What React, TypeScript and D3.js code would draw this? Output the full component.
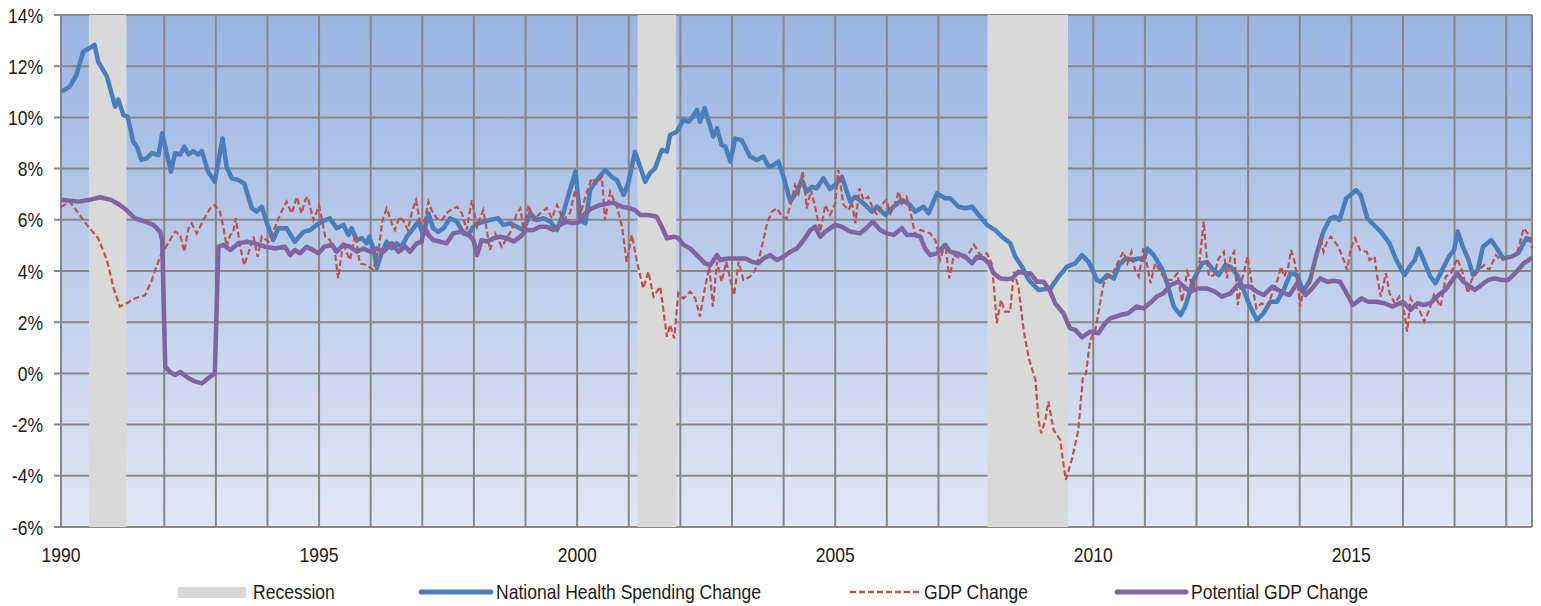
import React from 'react';
import * as d3 from 'd3';

const width = 1541;
const height = 606;
const margin = { top: 15, right: 9, bottom: 79, left: 61 };

const yTicks = [-6, -4, -2, 0, 2, 4, 6, 8, 10, 12, 14];
const xLabelYears = [1990, 1995, 2000, 2005, 2010, 2015];
const gridYears = d3.range(1990, 2019);

// recession periods as [start, end] in fractional years
const recessions = [
  [1990.54, 1991.27],
  [2001.17, 2001.92],
  [2007.95, 2009.51],
];

const healthSpending = [
  [1990.0, 11.0], [1990.17, 11.2], [1990.3, 11.66], [1990.43, 12.57], [1990.55, 12.7], [1990.65, 12.83],
  [1990.72, 12.18], [1990.89, 11.59], [1991.05, 10.42], [1991.11, 10.7], [1991.21, 10.09], [1991.29, 10.03],
  [1991.4, 9.05], [1991.47, 8.86], [1991.56, 8.34], [1991.66, 8.4], [1991.76, 8.6], [1991.89, 8.53],
  [1991.96, 9.38], [1992.13, 7.88], [1992.21, 8.6], [1992.31, 8.55], [1992.39, 8.86], [1992.47, 8.55],
  [1992.56, 8.68], [1992.66, 8.55], [1992.73, 8.68], [1992.85, 7.88], [1992.98, 7.49], [1993.13, 9.18],
  [1993.21, 8.07], [1993.31, 7.62], [1993.44, 7.55], [1993.55, 7.42], [1993.7, 6.45], [1993.79, 6.32],
  [1993.89, 6.51], [1993.99, 5.86], [1994.11, 5.21], [1994.21, 5.67], [1994.37, 5.67], [1994.53, 5.14],
  [1994.7, 5.53], [1994.83, 5.6], [1994.95, 5.8], [1995.05, 5.93], [1995.21, 6.06], [1995.34, 5.67],
  [1995.47, 5.8], [1995.57, 5.41], [1995.63, 5.67], [1995.73, 5.21], [1995.83, 5.28], [1995.92, 5.08],
  [1995.97, 5.34], [1996.05, 4.89], [1996.12, 4.11], [1996.21, 4.69], [1996.31, 5.14], [1996.41, 4.89],
  [1996.5, 5.08], [1996.6, 4.95], [1996.7, 5.34], [1996.83, 5.67], [1996.92, 5.93], [1997.02, 5.41],
  [1997.12, 6.25], [1997.21, 5.67], [1997.31, 5.53], [1997.41, 5.67], [1997.54, 6.06], [1997.67, 5.93],
  [1997.8, 5.47], [1997.89, 5.41], [1997.99, 5.73], [1998.09, 5.86], [1998.18, 5.93], [1998.31, 5.99],
  [1998.47, 6.06], [1998.57, 5.8], [1998.7, 5.86], [1998.83, 5.73], [1998.96, 5.6], [1999.09, 6.25],
  [1999.22, 5.99], [1999.35, 6.06], [1999.48, 5.93], [1999.61, 5.6], [1999.73, 6.25], [1999.86, 7.16],
  [1999.97, 7.88], [2000.06, 5.99], [2000.16, 5.86], [2000.25, 7.16], [2000.38, 7.55], [2000.54, 7.95],
  [2000.67, 7.68], [2000.77, 7.55], [2000.9, 6.97], [2000.99, 7.42], [2001.12, 8.66], [2001.22, 8.07],
  [2001.32, 7.49], [2001.41, 7.82], [2001.51, 8.01], [2001.64, 8.73], [2001.74, 8.66], [2001.8, 9.31],
  [2001.93, 9.44], [2002.06, 9.9], [2002.16, 9.83], [2002.22, 9.96], [2002.32, 10.29], [2002.38, 9.83],
  [2002.47, 10.36], [2002.54, 9.9], [2002.64, 9.25], [2002.71, 9.57], [2002.8, 8.92], [2002.87, 8.86],
  [2002.97, 8.27], [2003.06, 9.18], [2003.19, 9.11], [2003.35, 8.47], [2003.48, 8.34], [2003.61, 8.47],
  [2003.71, 8.07], [2003.8, 8.14], [2003.9, 8.27], [2004.0, 7.68], [2004.13, 6.71], [2004.26, 7.1],
  [2004.35, 7.55], [2004.45, 7.1], [2004.55, 7.29], [2004.64, 7.23], [2004.77, 7.62], [2004.9, 7.2],
  [2005.03, 7.42], [2005.13, 7.68], [2005.29, 6.71], [2005.39, 6.9], [2005.55, 6.64], [2005.71, 6.32],
  [2005.81, 6.51], [2005.97, 6.19], [2006.13, 6.51], [2006.29, 6.77], [2006.45, 6.58], [2006.55, 6.32],
  [2006.71, 6.51], [2006.81, 6.25], [2006.97, 7.03], [2007.13, 6.84], [2007.23, 6.84], [2007.39, 6.51],
  [2007.52, 6.45], [2007.65, 6.51], [2007.81, 6.12], [2007.94, 5.8], [2008.1, 5.6], [2008.23, 5.34],
  [2008.39, 5.08], [2008.49, 4.56], [2008.62, 4.17], [2008.75, 3.65], [2008.94, 3.26], [2009.17, 3.32],
  [2009.33, 3.78], [2009.49, 4.17], [2009.65, 4.3], [2009.78, 4.62], [2009.91, 4.36], [2010.07, 3.65],
  [2010.14, 3.58], [2010.27, 3.84], [2010.4, 3.71], [2010.5, 4.23], [2010.63, 4.49], [2010.76, 4.43],
  [2010.88, 4.49], [2010.97, 4.43], [2011.05, 4.88], [2011.17, 4.62], [2011.33, 4.1], [2011.43, 3.52],
  [2011.56, 2.61], [2011.69, 2.28], [2011.78, 2.61], [2011.94, 3.65], [2012.11, 4.3], [2012.2, 4.36],
  [2012.3, 4.1], [2012.43, 3.84], [2012.56, 4.23], [2012.66, 4.17], [2012.79, 3.84], [2012.91, 3.26],
  [2013.04, 2.61], [2013.17, 2.09], [2013.3, 2.35], [2013.43, 2.8], [2013.56, 2.8], [2013.69, 3.26],
  [2013.82, 3.91], [2013.95, 3.84], [2014.07, 3.19], [2014.2, 3.65], [2014.33, 4.69], [2014.46, 5.54],
  [2014.59, 6.06], [2014.68, 6.12], [2014.77, 5.99], [2014.9, 6.84], [2014.99, 6.97], [2015.09, 7.16],
  [2015.18, 6.97], [2015.31, 6.06], [2015.47, 5.73], [2015.57, 5.54], [2015.74, 5.08], [2015.87, 4.43],
  [2016.03, 3.84], [2016.13, 4.17], [2016.23, 4.43], [2016.3, 4.88], [2016.4, 4.43], [2016.53, 3.78],
  [2016.63, 3.52], [2016.76, 4.04], [2016.89, 4.56], [2016.99, 4.82], [2017.06, 5.54], [2017.16, 4.95],
  [2017.26, 4.49], [2017.36, 3.84], [2017.45, 4.04], [2017.55, 4.95], [2017.71, 5.21], [2017.84, 4.82],
  [2017.94, 4.49], [2018.1, 4.56], [2018.23, 4.69], [2018.39, 5.28], [2018.5, 5.21],
];

const gdpChange = [
  [1990.0, 6.5], [1990.17, 6.71], [1990.34, 6.25], [1990.5, 5.8], [1990.72, 5.28], [1990.89, 4.43],
  [1991.01, 3.39], [1991.14, 2.61], [1991.27, 2.74], [1991.43, 2.93], [1991.63, 3.06], [1991.76, 3.65],
  [1991.92, 4.56], [1992.11, 5.21], [1992.21, 5.54], [1992.31, 5.41], [1992.39, 4.75], [1992.47, 5.67],
  [1992.53, 5.86], [1992.63, 5.47], [1992.76, 5.99], [1992.89, 6.45], [1992.98, 6.58], [1993.08, 6.32],
  [1993.15, 5.67], [1993.21, 4.95], [1993.28, 5.41], [1993.33, 5.47], [1993.39, 6.06], [1993.47, 4.95],
  [1993.55, 4.23], [1993.63, 4.69], [1993.73, 5.34], [1993.81, 4.56], [1993.89, 5.34], [1994.02, 5.15],
  [1994.15, 5.73], [1994.24, 6.19], [1994.37, 6.71], [1994.47, 6.25], [1994.57, 6.9], [1994.66, 6.25],
  [1994.73, 6.77], [1994.78, 6.9], [1994.89, 5.99], [1995.0, 6.55], [1995.12, 5.34], [1995.21, 5.21],
  [1995.31, 4.69], [1995.37, 3.71], [1995.47, 5.14], [1995.53, 4.75], [1995.6, 4.43], [1995.7, 5.41],
  [1995.79, 4.3], [1995.92, 4.23], [1996.05, 4.04], [1996.15, 4.82], [1996.23, 5.99], [1996.31, 6.45],
  [1996.41, 5.86], [1996.47, 5.6], [1996.56, 6.12], [1996.64, 5.93], [1996.72, 5.6], [1996.8, 6.32],
  [1996.88, 6.77], [1996.96, 5.86], [1997.05, 5.99], [1997.12, 6.71], [1997.18, 6.38], [1997.28, 6.06],
  [1997.38, 5.99], [1997.5, 6.32], [1997.67, 6.51], [1997.77, 6.25], [1997.86, 5.6], [1997.96, 6.77],
  [1998.06, 5.73], [1998.18, 6.38], [1998.25, 5.6], [1998.31, 4.82], [1998.41, 5.47], [1998.54, 4.95],
  [1998.64, 5.28], [1998.73, 5.6], [1998.83, 6.25], [1998.9, 6.45], [1998.96, 5.6], [1999.06, 6.58],
  [1999.16, 5.99], [1999.28, 6.25], [1999.41, 6.45], [1999.51, 6.06], [1999.61, 6.58], [1999.73, 5.99],
  [1999.86, 6.25], [1999.96, 7.16], [2000.06, 6.2], [2000.16, 6.9], [2000.28, 7.62], [2000.38, 7.42],
  [2000.48, 7.68], [2000.54, 5.99], [2000.64, 7.1], [2000.77, 6.51], [2000.87, 5.73], [2000.96, 4.36],
  [2001.06, 5.41], [2001.16, 4.36], [2001.28, 3.32], [2001.38, 3.97], [2001.48, 3.0], [2001.61, 3.39],
  [2001.67, 2.48], [2001.74, 1.43], [2001.8, 1.9], [2001.88, 1.37], [2001.96, 3.13], [2002.06, 2.93],
  [2002.19, 3.19], [2002.29, 2.93], [2002.38, 2.22], [2002.48, 3.39], [2002.56, 4.17], [2002.63, 2.61],
  [2002.71, 4.36], [2002.8, 3.58], [2002.89, 4.36], [2002.97, 3.65], [2003.04, 3.06], [2003.13, 4.36],
  [2003.22, 3.65], [2003.35, 3.78], [2003.45, 4.04], [2003.55, 4.69], [2003.68, 5.86], [2003.77, 6.32],
  [2003.87, 6.45], [2003.97, 6.12], [2004.06, 6.06], [2004.15, 6.71], [2004.22, 7.36], [2004.29, 7.03],
  [2004.37, 7.92], [2004.45, 6.45], [2004.53, 7.16], [2004.61, 6.51], [2004.71, 5.54], [2004.81, 6.58],
  [2004.9, 6.19], [2005.0, 6.64], [2005.06, 7.95], [2005.16, 6.6], [2005.26, 6.38], [2005.32, 6.71],
  [2005.39, 5.86], [2005.47, 7.23], [2005.55, 6.77], [2005.64, 6.9], [2005.74, 6.38], [2005.82, 6.19],
  [2005.9, 6.58], [2005.99, 6.77], [2006.07, 6.25], [2006.16, 6.64], [2006.23, 7.1], [2006.29, 6.64],
  [2006.38, 6.9], [2006.45, 6.38], [2006.55, 5.41], [2006.65, 5.6], [2006.74, 5.54], [2006.84, 5.47],
  [2006.94, 5.21], [2007.03, 4.43], [2007.13, 5.08], [2007.21, 3.71], [2007.3, 4.62], [2007.42, 4.49],
  [2007.55, 4.56], [2007.69, 5.02], [2007.81, 4.62], [2007.94, 4.69], [2008.03, 4.3], [2008.08, 3.26],
  [2008.13, 1.96], [2008.21, 2.87], [2008.29, 2.41], [2008.39, 2.41], [2008.46, 3.97], [2008.55, 3.39],
  [2008.65, 1.7], [2008.75, 0.59], [2008.88, -0.26], [2008.94, -1.82], [2008.99, -2.34], [2009.07, -1.82],
  [2009.13, -1.1], [2009.23, -2.21], [2009.36, -2.6], [2009.42, -3.51], [2009.47, -4.16], [2009.59, -3.32],
  [2009.71, -2.21], [2009.8, -0.13], [2009.86, 0.0], [2009.94, 1.3], [2010.04, 1.7], [2010.12, 2.6],
  [2010.2, 3.5], [2010.28, 3.78], [2010.38, 3.91], [2010.5, 4.43], [2010.58, 4.75], [2010.66, 4.3],
  [2010.74, 4.75], [2010.81, 4.04], [2010.88, 3.78], [2010.97, 4.88], [2011.05, 4.17], [2011.11, 3.52],
  [2011.2, 4.3], [2011.3, 3.97], [2011.4, 3.65], [2011.52, 3.65], [2011.63, 3.91], [2011.72, 2.8],
  [2011.82, 3.97], [2011.94, 3.32], [2012.04, 4.04], [2012.14, 5.93], [2012.19, 4.69], [2012.24, 3.78],
  [2012.34, 3.84], [2012.43, 4.49], [2012.53, 4.75], [2012.59, 3.71], [2012.66, 4.56], [2012.73, 4.75],
  [2012.8, 2.67], [2012.88, 3.65], [2012.99, 4.56], [2013.05, 3.78], [2013.16, 2.54], [2013.26, 2.74],
  [2013.37, 2.61], [2013.47, 3.13], [2013.57, 3.65], [2013.64, 4.17], [2013.7, 3.78], [2013.78, 4.17],
  [2013.83, 4.82], [2013.91, 4.3], [2014.01, 2.61], [2014.07, 3.32], [2014.2, 3.52], [2014.3, 4.43],
  [2014.4, 5.34], [2014.46, 4.75], [2014.53, 5.15], [2014.6, 5.34], [2014.75, 4.95], [2014.85, 4.43],
  [2014.92, 4.04], [2014.98, 4.82], [2015.07, 5.28], [2015.17, 4.82], [2015.3, 4.75], [2015.35, 4.43],
  [2015.45, 4.56], [2015.51, 3.65], [2015.57, 3.0], [2015.67, 3.91], [2015.74, 3.13], [2015.84, 2.74],
  [2015.93, 3.0], [2016.03, 2.35], [2016.08, 1.63], [2016.15, 2.93], [2016.23, 2.61], [2016.32, 2.48],
  [2016.41, 2.02], [2016.51, 2.48], [2016.6, 3.06], [2016.73, 2.61], [2016.83, 3.78], [2016.93, 3.91],
  [2017.05, 4.49], [2017.15, 3.97], [2017.26, 3.13], [2017.33, 3.65], [2017.47, 4.04], [2017.57, 4.23],
  [2017.67, 4.04], [2017.8, 4.62], [2017.9, 4.43], [2018.07, 4.56], [2018.2, 4.62], [2018.34, 5.67],
  [2018.44, 5.41], [2018.5, 4.88],
];

const potentialGdp = [
  [1990.0, 6.8], [1990.05, 6.77], [1990.34, 6.71], [1990.53, 6.77], [1990.76, 6.88], [1990.98, 6.77],
  [1991.14, 6.58], [1991.27, 6.38], [1991.43, 6.06], [1991.63, 5.93], [1991.79, 5.8], [1991.92, 5.54],
  [1991.96, 5.21], [1992.02, 0.26], [1992.11, 0.06], [1992.21, -0.07], [1992.31, 0.06], [1992.47, -0.19],
  [1992.6, -0.32], [1992.73, -0.39], [1992.85, -0.19], [1992.98, 0.0], [1993.05, 4.95], [1993.15, 5.02],
  [1993.28, 4.82], [1993.44, 5.08], [1993.6, 5.14], [1993.76, 5.08], [1993.95, 4.95], [1994.15, 4.88],
  [1994.34, 4.95], [1994.44, 4.62], [1994.53, 4.82], [1994.63, 4.69], [1994.76, 4.95], [1994.88, 4.82],
  [1994.99, 4.69], [1995.1, 4.95], [1995.25, 5.02], [1995.34, 4.75], [1995.47, 5.02], [1995.6, 4.95],
  [1995.73, 4.75], [1995.86, 4.88], [1995.99, 4.75], [1996.12, 4.88], [1996.25, 4.75], [1996.41, 5.08],
  [1996.54, 4.75], [1996.67, 4.95], [1996.76, 4.75], [1996.89, 5.08], [1996.99, 5.15], [1997.03, 5.73],
  [1997.12, 5.41], [1997.21, 5.21], [1997.34, 5.15], [1997.47, 5.08], [1997.6, 5.47], [1997.77, 5.54],
  [1997.9, 5.41], [1997.99, 5.21], [1998.06, 4.62], [1998.15, 5.21], [1998.25, 5.15], [1998.38, 5.28],
  [1998.51, 5.34], [1998.64, 5.28], [1998.77, 5.15], [1998.9, 5.34], [1999.02, 5.6], [1999.15, 5.6],
  [1999.28, 5.73], [1999.41, 5.73], [1999.54, 5.6], [1999.67, 5.8], [1999.8, 5.93], [1999.9, 5.86],
  [2000.03, 5.9], [2000.16, 6.25], [2000.28, 6.45], [2000.45, 6.58], [2000.7, 6.67], [2000.87, 6.51],
  [2001.03, 6.45], [2001.12, 6.38], [2001.22, 6.19], [2001.38, 6.19], [2001.54, 6.12], [2001.64, 5.73],
  [2001.74, 5.28], [2001.87, 5.34], [2001.96, 5.28], [2002.06, 5.02], [2002.19, 4.88], [2002.35, 4.56],
  [2002.48, 4.3], [2002.58, 4.23], [2002.71, 4.62], [2002.77, 4.43], [2002.93, 4.49], [2003.09, 4.49],
  [2003.26, 4.49], [2003.39, 4.36], [2003.51, 4.3], [2003.61, 4.49], [2003.74, 4.62], [2003.87, 4.43],
  [2004.0, 4.56], [2004.13, 4.75], [2004.26, 4.88], [2004.39, 5.21], [2004.52, 5.6], [2004.61, 5.73],
  [2004.71, 5.34], [2004.81, 5.54], [2004.9, 5.67], [2005.0, 5.8], [2005.13, 5.73], [2005.29, 5.54],
  [2005.48, 5.47], [2005.6, 5.67], [2005.73, 5.93], [2005.87, 5.6], [2006.0, 5.47], [2006.13, 5.41],
  [2006.29, 5.67], [2006.39, 5.41], [2006.52, 5.41], [2006.65, 5.34], [2006.74, 4.88], [2006.84, 4.62],
  [2006.97, 4.69], [2007.13, 5.02], [2007.23, 4.75], [2007.36, 4.69], [2007.52, 4.56], [2007.65, 4.3],
  [2007.75, 4.56], [2007.88, 4.49], [2007.98, 4.3], [2008.07, 3.91], [2008.2, 3.71], [2008.33, 3.69],
  [2008.43, 3.71], [2008.55, 3.97], [2008.68, 3.91], [2008.78, 3.91], [2008.91, 3.58], [2009.04, 3.58],
  [2009.17, 3.19], [2009.26, 2.74], [2009.42, 2.35], [2009.55, 1.76], [2009.65, 1.7], [2009.78, 1.41],
  [2009.94, 1.63], [2010.1, 1.57], [2010.23, 1.96], [2010.33, 2.15], [2010.52, 2.28], [2010.68, 2.35],
  [2010.84, 2.61], [2010.97, 2.54], [2011.13, 2.8], [2011.23, 3.0], [2011.36, 3.13], [2011.49, 3.45],
  [2011.65, 3.58], [2011.75, 3.39], [2011.88, 3.19], [2012.04, 3.32], [2012.2, 3.32], [2012.36, 3.19],
  [2012.49, 3.0], [2012.66, 3.13], [2012.79, 3.45], [2012.91, 3.39], [2013.04, 3.39], [2013.17, 3.19],
  [2013.3, 3.06], [2013.47, 3.39], [2013.64, 3.19], [2013.8, 3.06], [2013.95, 3.52], [2014.11, 3.06],
  [2014.24, 3.32], [2014.4, 3.71], [2014.53, 3.58], [2014.65, 3.62], [2014.78, 3.58], [2014.91, 3.13],
  [2015.03, 2.67], [2015.2, 2.93], [2015.33, 2.8], [2015.48, 2.8], [2015.64, 2.74], [2015.8, 2.61],
  [2016.0, 2.8], [2016.15, 2.48], [2016.28, 2.74], [2016.4, 2.67], [2016.53, 2.74], [2016.69, 3.06],
  [2016.82, 3.26], [2016.96, 3.65], [2017.05, 3.91], [2017.17, 3.58], [2017.3, 3.39], [2017.39, 3.26],
  [2017.52, 3.45], [2017.65, 3.65], [2017.78, 3.71], [2017.91, 3.65], [2018.04, 3.65], [2018.2, 3.97],
  [2018.34, 4.3], [2018.5, 4.52],
];

// Liberation Sans squeezed horizontally stands in for Arial Narrow
const font = "'Liberation Sans', Arial, sans-serif";
const fontSize = 21;
const narrow = 0.835;
const textColor = '#1a1a1a';
const gridColor = '#878787';
const blue = '#4a7ebb';
const red = '#c0504d';
const purple = '#8064a2';
const recessionGray = '#d9d9d9';

const x = d3.scaleLinear().domain([1990, 2018.5]).range([margin.left, width - margin.right]);
const y = d3.scaleLinear().domain([-6, 14]).range([height - margin.bottom, margin.top]);

const line = d3
  .line()
  .x(d => x(d[0]))
  .y(d => y(d[1]));

const legendItems = [
  { label: 'Recession', kind: 'rect', color: recessionGray, x0: 178, x1: 246 },
  { label: 'National Health Spending Change', kind: 'solid', color: blue, x0: 421, x1: 491 },
  { label: 'GDP Change', kind: 'dash', color: red, x0: 850, x1: 919 },
  { label: 'Potential GDP Change', kind: 'solid', color: purple, x0: 1117, x1: 1186 },
];

const NarrowText = ({ x: tx, y: ty, anchor = 'start', dy, children }) => (
  <text
    transform={`translate(${tx},${ty}) scale(${narrow},1)`}
    textAnchor={anchor}
    dy={dy}
    fontSize={fontSize}
    fill={textColor}
  >
    {children}
  </text>
);

const App = () => {
  const [x0, x1] = x.range();
  const [y0, y1] = y.range();
  return (
    <svg
      width={width}
      height={height}
      style={{ position: 'absolute', left: 0, top: 0, background: '#fff' }}
      fontFamily={font}
    >
      <defs>
        <linearGradient id="plotBg" x1="0" y1="0" x2="0" y2="1">
          <stop offset="0%" stopColor="#9ab4e2" />
          <stop offset="100%" stopColor="#e1e7f4" />
        </linearGradient>
      </defs>
      <rect x={x0} y={y1} width={x1 - x0} height={y0 - y1} fill="url(#plotBg)" />

      {/* grid */}
      <g stroke={gridColor} strokeWidth={2}>
        {gridYears.map(yr => (
          <line key={yr} x1={x(yr)} x2={x(yr)} y1={y1} y2={y0} />
        ))}
        {yTicks.map(t => (
          <line key={t} x1={x0 - 7} x2={x1} y1={y(t)} y2={y(t)} />
        ))}
        <line x1={x1} x2={x1} y1={y1} y2={y0} />
      </g>

      {/* recessions */}
      {recessions.map(([a, b]) => (
        <rect key={a} x={x(a)} y={y1} width={x(b) - x(a)} height={y0 - y1} fill={recessionGray} />
      ))}

      {/* series */}
      <path d={line(healthSpending)} fill="none" stroke={blue} strokeWidth={4.5} strokeLinejoin="round" />
      <path d={line(gdpChange)} fill="none" stroke={red} strokeWidth={2.2} strokeDasharray="6,3" />
      <path d={line(potentialGdp)} fill="none" stroke={purple} strokeWidth={4.5} strokeLinejoin="round" />

      {/* y labels */}
      {yTicks.map(t => (
        <NarrowText key={t} x={43} y={y(t)} dy="0.36em" anchor="end">
          {`${t}%`}
        </NarrowText>
      ))}

      {/* x labels */}
      {xLabelYears.map(yr => (
        <NarrowText key={yr} x={x(yr)} y={562} anchor="middle">
          {yr}
        </NarrowText>
      ))}

      {/* legend */}
      {legendItems.map(item => (
        <g key={item.label}>
          {item.kind === 'rect' && (
            <rect x={item.x0} y={587} width={item.x1 - item.x0} height={11} fill={item.color} />
          )}
          {item.kind === 'solid' && (
            <line x1={item.x0} x2={item.x1} y1={592} y2={592} stroke={item.color} strokeWidth={5} strokeLinecap="round" />
          )}
          {item.kind === 'dash' && (
            <line x1={item.x0} x2={item.x1} y1={592} y2={592} stroke={item.color} strokeWidth={2.5} strokeDasharray="6,3" />
          )}
          <NarrowText x={item.kind === 'rect' ? item.x1 + 7 : item.x1 + 5} y={599}>
            {item.label}
          </NarrowText>
        </g>
      ))}
    </svg>
  );
};

export default App;
